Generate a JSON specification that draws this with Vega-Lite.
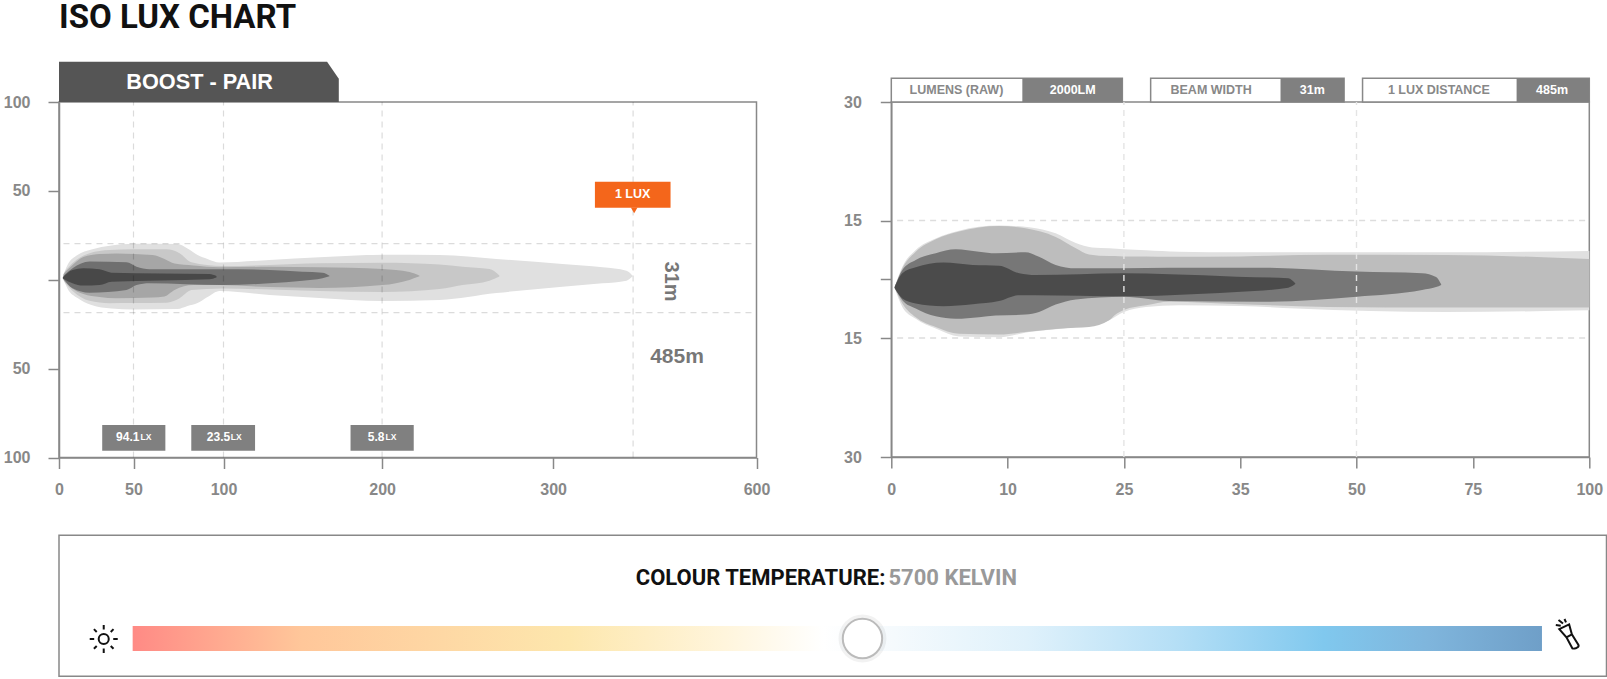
{
"$schema":"https://vega.github.io/schema/vega-lite/v6.json",
"background":"white",
"padding":{"left":2,"top":1,"right":0,"bottom":0},
"resolve":{"scale":{"color":"independent"}},
"config":{"view":{"stroke":"#888","strokeWidth":1.5},"font":"Liberation Sans","axis":{"domainColor":"#888","domainWidth":1.5,"tickColor":"#888","tickWidth":1.5,"tickSize":11,"labelColor":"#888","labelFont":"Liberation Sans","labelFontWeight":"bold","labelFontSize":16,"grid":false,"title":null,"labelFlush":false,"labelOverlap":false,"labelBound":false}},
"datasets":{
"left":[
{"level":"L1","x":2.55,"y":1.5,"y2":1.3},{"level":"L1","x":5.7,"y":8.3,"y2":-4.9},{"level":"L1","x":12.4,"y":13.9,"y2":-10.3},{"level":"L1","x":21.8,"y":17,"y2":-14.2},{"level":"L1","x":35.2,"y":19.3,"y2":-16.2},{"level":"L1","x":50,"y":20.3,"y2":-16.7},{"level":"L1","x":74.4,"y":20.1,"y2":-16.5},{"level":"L1","x":80,"y":17.6,"y2":-14.8},{"level":"L1","x":85.6,"y":13.9,"y2":-13.1},{"level":"L1","x":91.1,"y":11.7,"y2":-9.7},{"level":"L1","x":97.8,"y":9.7,"y2":-6.3},{"level":"L1","x":129,"y":11.1,"y2":-8.6},{"level":"L1","x":160.5,"y":12.6,"y2":-10.3},{"level":"L1","x":200.2,"y":14.1,"y2":-12},{"level":"L1","x":233.6,"y":13.9,"y2":-11.4},{"level":"L1","x":266.9,"y":11.7,"y2":-7.5},{"level":"L1","x":321.7,"y":8.9,"y2":-3.9},{"level":"L1","x":414.2,"y":7,"y2":-2},{"level":"L1","x":469.7,"y":5.1,"y2":-0.5},{"level":"L1","x":483.6,"y":2.3,"y2":1.9},
{"level":"L2","x":3.7,"y":4.4,"y2":-1.3},{"level":"L2","x":9.1,"y":9.4,"y2":-6.3},{"level":"L2","x":20.5,"y":14.9,"y2":-11.8},{"level":"L2","x":33.9,"y":16.7,"y2":-13.2},{"level":"L2","x":49.3,"y":17.1,"y2":-13.1},{"level":"L2","x":68.3,"y":17.1,"y2":-12.9},{"level":"L2","x":75.6,"y":14.9,"y2":-10.4},{"level":"L2","x":82.2,"y":9.8,"y2":-5.8},{"level":"L2","x":99.4,"y":7.7,"y2":-4.9},{"level":"L2","x":129,"y":8.3,"y2":-5.5},{"level":"L2","x":160.5,"y":9.3,"y2":-6.3},{"level":"L2","x":200.2,"y":9.6,"y2":-6.9},{"level":"L2","x":233.6,"y":8.6,"y2":-5.2},{"level":"L2","x":247,"y":7.3,"y2":-3},{"level":"L2","x":262.8,"y":6,"y2":-0.5},{"level":"L2","x":268.6,"y":2.4,"y2":1.8},
{"level":"L3","x":3,"y":3.2,"y2":-0.1},{"level":"L3","x":8.4,"y":7.7,"y2":-4.6},{"level":"L3","x":16.4,"y":12.8,"y2":-8},{"level":"L3","x":27.2,"y":14.5,"y2":-9.7},{"level":"L3","x":38.6,"y":14.8,"y2":-10.4},{"level":"L3","x":60.6,"y":13.9,"y2":-10},{"level":"L3","x":67.2,"y":11.7,"y2":-9.4},{"level":"L3","x":72.8,"y":9.1,"y2":-5.8},{"level":"L3","x":83.3,"y":8,"y2":-3},{"level":"L3","x":97.8,"y":7,"y2":-3},{"level":"L3","x":129,"y":7.3,"y2":-4.1},{"level":"L3","x":160.5,"y":7,"y2":-4.6},{"level":"L3","x":200.2,"y":6,"y2":-3},{"level":"L3","x":216,"y":4.4,"y2":-0.1},{"level":"L3","x":221.9,"y":2.3,"y2":1.9},
{"level":"L4","x":3,"y":2.1,"y2":0.4},{"level":"L4","x":9.1,"y":6.4,"y2":-4.8},{"level":"L4","x":20.5,"y":10.2,"y2":-7.3},{"level":"L4","x":45.3,"y":9.8,"y2":-5.8},{"level":"L4","x":51.7,"y":7.3,"y2":-3},{"level":"L4","x":58.9,"y":5.9,"y2":-2},{"level":"L4","x":99.4,"y":5.9,"y2":-3},{"level":"L4","x":129,"y":5.5,"y2":-2},{"level":"L4","x":149.8,"y":4.5,"y2":-0.5},{"level":"L4","x":162.4,"y":4,"y2":0.8},{"level":"L4","x":166.8,"y":2.3,"y2":1.9},
{"level":"L5","x":2.55,"y":1.3,"y2":0.7},{"level":"L5","x":9.1,"y":5.5,"y2":-2},{"level":"L5","x":16.3,"y":6.4,"y2":-3.3},{"level":"L5","x":27.2,"y":5.9,"y2":-3},{"level":"L5","x":35.2,"y":4,"y2":-1.1},{"level":"L5","x":92.2,"y":3.2,"y2":0.3},{"level":"L5","x":96.1,"y":2.1,"y2":1.3}
],
"right":[
{"level":"R1","x":0.29,"y":-1.97,"y2":-2.38},{"level":"R1","x":0.95,"y":3.15,"y2":-7.1},{"level":"R1","x":2.1,"y":7.44,"y2":-10.1},{"level":"R1","x":3.82,"y":10.4,"y2":-12.6},{"level":"R1","x":5.82,"y":12.4,"y2":-14.6},{"level":"R1","x":9.26,"y":13.7,"y2":-14.8},{"level":"R1","x":12.8,"y":13.3,"y2":-13.5},{"level":"R1","x":16.2,"y":11.7,"y2":-12.8},{"level":"R1","x":18.8,"y":9.2,"y2":-12.2},{"level":"R1","x":20.9,"y":8.1,"y2":-11.8},{"level":"R1","x":23.1,"y":7.9,"y2":-10.5},{"level":"R1","x":25,"y":7.6,"y2":-8.4},{"level":"R1","x":26.9,"y":7.4,"y2":-7.1},{"level":"R1","x":29.7,"y":7,"y2":-6.7},{"level":"R1","x":35,"y":6.85,"y2":-6.85},{"level":"R1","x":42.2,"y":6.85,"y2":-7.5},{"level":"R1","x":69.2,"y":6.85,"y2":-8.4},{"level":"R1","x":100,"y":7.2,"y2":-7.95},
{"level":"R2","x":0.29,"y":-2.05,"y2":-2.3},{"level":"R2","x":0.95,"y":2.74,"y2":-6.2},{"level":"R2","x":2.1,"y":7,"y2":-9.7},{"level":"R2","x":3.82,"y":10.2,"y2":-12.2},{"level":"R2","x":5.82,"y":12.2,"y2":-13.9},{"level":"R2","x":9.26,"y":13.6,"y2":-14.1},{"level":"R2","x":12.3,"y":13,"y2":-13.5},{"level":"R2","x":16.2,"y":10.8,"y2":-12.7},{"level":"R2","x":18.8,"y":7.9,"y2":-12.4},{"level":"R2","x":20.5,"y":6.3,"y2":-12.2},{"level":"R2","x":23.1,"y":5.9,"y2":-10.5},{"level":"R2","x":23.8,"y":5.9,"y2":-9.2},{"level":"R2","x":25,"y":5.8,"y2":-7.9},{"level":"R2","x":26.9,"y":5.8,"y2":-6.7},{"level":"R2","x":28.9,"y":5.7,"y2":-5.8},{"level":"R2","x":35,"y":5.8,"y2":-6.4},{"level":"R2","x":46.3,"y":6.2,"y2":-7.1},{"level":"R2","x":69.2,"y":6.15,"y2":-7.25},{"level":"R2","x":100,"y":5.1,"y2":-7.25},
{"level":"R3","x":0.29,"y":-2.05,"y2":-2.3},{"level":"R3","x":0.95,"y":2.3,"y2":-5.4},{"level":"R3","x":2.1,"y":4.9,"y2":-7.5},{"level":"R3","x":3.82,"y":6.6,"y2":-9.5},{"level":"R3","x":5.54,"y":7.6,"y2":-10.1},{"level":"R3","x":7.54,"y":7,"y2":-9.7},{"level":"R3","x":8.98,"y":6.6,"y2":-9.3},{"level":"R3","x":12.3,"y":6.85,"y2":-9.05},{"level":"R3","x":14.05,"y":5.7,"y2":-8.4},{"level":"R3","x":16.2,"y":3.6,"y2":-6.5},{"level":"R3","x":18.8,"y":2.74,"y2":-5.2},{"level":"R3","x":25,"y":2.74,"y2":-4.5},{"level":"R3","x":28.9,"y":2.9,"y2":-5.6},{"level":"R3","x":37.8,"y":2.9,"y2":-5.8},{"level":"R3","x":50,"y":1.9,"y2":-4.5},{"level":"R3","x":64.1,"y":1.5,"y2":-2.8},{"level":"R3","x":67.1,"y":0.5,"y2":-2.05},{"level":"R3","x":68.2,"y":-1.35,"y2":-1.5},
{"level":"R4","x":0.29,"y":-2.05,"y2":-2.3},{"level":"R4","x":0.95,"y":1.46,"y2":-4.95},{"level":"R4","x":2.1,"y":3,"y2":-6.2},{"level":"R4","x":4.46,"y":4.2,"y2":-6.9},{"level":"R4","x":7,"y":3.6,"y2":-6.4},{"level":"R4","x":9.26,"y":3.4,"y2":-5.6},{"level":"R4","x":11.5,"y":1.46,"y2":-4.1},{"level":"R4","x":13.6,"y":1,"y2":-4.1},{"level":"R4","x":25,"y":1.46,"y2":-4.4},{"level":"R4","x":28.9,"y":1.2,"y2":-4.1},{"level":"R4","x":34.7,"y":0.6,"y2":-3.3},{"level":"R4","x":41.2,"y":0.18,"y2":-2.2},{"level":"R4","x":42.1,"y":-1.1,"y2":-1.3}
]
},
"bounds":"flush",
"align":"none",
"columns":2,
"spacing":{"row":77.3,"column":134.3},
"concat":[
{"width":697.5,"height":355.5,
"encoding":{
"x":{"field":"x","type":"quantitative","scale":{"domain":[0,50,100,200,300,485,600],"range":[0,74.5,164.5,323.1,494.1,574.1,697.5],"nice":false,"zero":false},"axis":{"values":[0,50,100,200,300,600],"labelPadding":13}},
"y":{"field":"y","type":"quantitative","scale":{"domain":[-100,100],"nice":false,"zero":false},"axis":{"values":[-100,-50,0,50,100],"labelExpr":"datum.value==0?'':''+abs(datum.value)","labelPadding":18}}
},
"layer":[
{"data":{"name":"left"},"mark":{"type":"area","interpolate":"monotone"},"encoding":{"y2":{"field":"y2"},"color":{"field":"level","type":"nominal","legend":null,"scale":{"domain":["L1","L2","L3","L4","L5"],"range":["#e0e0e0","#c8c8c8","#a6a6a6","#6f6f6f","#484848"]}}}},
{"data":{"values":[{"x":50,"y":-100,"y2":100},{"x":100,"y":-100,"y2":100},{"x":200,"y":-100,"y2":100},{"x":485,"y":-100,"y2":100}]},"mark":{"type":"rule","stroke":"#000","strokeOpacity":0.14,"strokeWidth":1.2,"strokeDash":[6,5]},"encoding":{"y2":{"field":"y2"}}},
{"data":{"values":[{"x":3,"x2":597,"y":20.3},{"x":3,"x2":597,"y":-18.5}]},"mark":{"type":"rule","stroke":"#000","strokeOpacity":0.14,"strokeWidth":1.2,"strokeDash":[6,5]},"encoding":{"x2":{"field":"x2"}}},
{"data":{"values":[{"x":0,"y":122.7},{"x":165.3,"y":122.7},{"x":172.7,"y":113.1}]},"mark":{"type":"area","color":"#555555","clip":false},"encoding":{"y2":{"datum":100}}},
{"data":{"values":[{"x":86.7,"y":111.2,"t":"BOOST - PAIR"}]},"mark":{"type":"text","color":"white","fontWeight":"bold","fontSize":21.7},"encoding":{"text":{"field":"t"}}},
{"data":{"values":[{"x":0,"y":147.1,"t":"ISO LUX CHART"}]},"mark":{"type":"text","color":"#111","font":"Roboto","fontWeight":"bold","fontSize":33,"align":"left"},"encoding":{"text":{"field":"t"}}},
{"data":{"values":[{"x":396.7,"x2":519.9,"y":55.2,"y2":40.5}]},"mark":{"type":"rect","color":"#f4661b"},"encoding":{"x2":{"field":"x2"},"y2":{"field":"y2"}}},
{"data":{"values":[{"x":486,"y":39}]},"mark":{"type":"point","shape":"triangle-down","filled":true,"opacity":1,"size":45,"color":"#f4661b"}},
{"data":{"values":[{"x":484,"y":48,"t":"1 LUX"}]},"mark":{"type":"text","color":"white","fontWeight":"bold","fontSize":12.5},"encoding":{"text":{"field":"t"}}},
{"data":{"values":[{"x":519.9,"y":-1,"t":"31m"}]},"mark":{"type":"text","color":"#777","fontWeight":"bold","fontSize":20,"angle":90},"encoding":{"text":{"field":"t"}}},
{"data":{"values":[{"x":525.9,"y":-43.3,"t":"485m"}]},"mark":{"type":"text","color":"#777","fontWeight":"bold","fontSize":21},"encoding":{"text":{"field":"t"}}},
{"data":{"values":[{"x":29,"x2":67.7,"y":-81.7,"y2":-96.2},{"x":82.1,"x2":119.9,"y":-81.7,"y2":-96.2},{"x":180.1,"x2":218.5,"y":-81.7,"y2":-96.2}]},"mark":{"type":"rect","color":"#808080"},"encoding":{"x2":{"field":"x2"},"y2":{"field":"y2"}}},
{"data":{"values":[{"x":53.3,"y":-88.3,"t":"94.1"},{"x":104.2,"y":-88.3,"t":"23.5"},{"x":201.4,"y":-88.3,"t":"5.8"}]},"mark":{"type":"text","color":"white","fontWeight":"bold","fontSize":12,"align":"right"},"encoding":{"text":{"field":"t"}}},
{"data":{"values":[{"x":53.9,"y":-88.5,"t":"LX"},{"x":104.6,"y":-88.5,"t":"LX"},{"x":202,"y":-88.5,"t":"LX"}]},"mark":{"type":"text","color":"white","fontWeight":"bold","fontSize":8.5,"align":"left"},"encoding":{"text":{"field":"t"}}}
]},
{"width":698,"height":355,
"encoding":{
"x":{"field":"x","type":"quantitative","scale":{"domain":[0,10,25,35,50,75,100],"range":[0,116.3,232.6,348.9,465.2,581.5,698],"nice":false,"zero":false},"axis":{"values":[0,10,25,35,50,75,100],"labelPadding":13}},
"y":{"field":"y","type":"quantitative","scale":{"domain":[-30,-15,0,15,30],"range":[355,236,177,118.5,0],"nice":false,"zero":false},"axis":{"values":[-30,-15,0,15,30],"labelExpr":"datum.value==0?'':''+abs(datum.value)","labelPadding":19}}
},
"layer":[
{"data":{"name":"right"},"mark":{"type":"area","interpolate":"monotone"},"encoding":{"y2":{"field":"y2"},"color":{"field":"level","type":"nominal","legend":null,"scale":{"domain":["R1","R2","R3","R4"],"range":["#e0e0e0","#bdbdbd","#777777","#4b4b4b"]}}}},
{"data":{"values":[{"x":25,"y":-30,"y2":30},{"x":50,"y":-30,"y2":30}]},"mark":{"type":"rule","stroke":"#e4e4e4","strokeWidth":1.4,"strokeDash":[6,5]},"encoding":{"y2":{"field":"y2"}}},
{"data":{"values":[{"x":0.5,"x2":99.8,"y":15},{"x":0.5,"x2":99.8,"y":-15}]},"mark":{"type":"rule","stroke":"#dddddd","strokeWidth":1.4,"strokeDash":[6,5]},"encoding":{"x2":{"field":"x2"}}},
{"data":{"values":[{"x":0,"x2":24.8,"y":30,"y2":33},{"x":27.3,"x2":48.4,"y":30,"y2":33},{"x":51.3,"x2":100,"y":30,"y2":33}]},"mark":{"type":"rect","fill":"white","stroke":"#888","strokeWidth":1.5},"encoding":{"x2":{"field":"x2"},"y2":{"field":"y2"}}},
{"data":{"values":[{"x":11.9,"x2":24.8,"y":30,"y2":33},{"x":40.2,"x2":48.4,"y":30,"y2":33},{"x":84.4,"x2":100,"y":30,"y2":33}]},"mark":{"type":"rect","color":"#808080"},"encoding":{"x2":{"field":"x2"},"y2":{"field":"y2"}}},
{"data":{"values":[{"x":5.6,"y":31.5,"t":"LUMENS (RAW)"},{"x":32.5,"y":31.5,"t":"BEAM WIDTH"},{"x":67.7,"y":31.5,"t":"1 LUX DISTANCE"}]},"mark":{"type":"text","color":"#888","fontWeight":"bold","fontSize":12.5},"encoding":{"text":{"field":"t"}}},
{"data":{"values":[{"x":18.4,"y":31.5,"t":"2000LM"},{"x":44.3,"y":31.5,"t":"31m"},{"x":92,"y":31.5,"t":"485m"}]},"mark":{"type":"text","color":"white","fontWeight":"bold","fontSize":12.5},"encoding":{"text":{"field":"t"}}}
]},
{"width":697.5,"height":141,"view":{"stroke":null},
"encoding":{
"x":{"field":"x","type":"quantitative","scale":{"domain":[0,100],"range":[0,1547.5],"nice":false,"zero":false},"axis":null},
"y":{"field":"y","type":"quantitative","scale":{"domain":[0,100],"nice":false,"zero":false},"axis":null}
},
"layer":[
{"data":{"values":[{"x":0,"x2":100,"y":0,"y2":100}]},"mark":{"type":"rect","fill":null,"stroke":"#888","strokeWidth":1.5},"encoding":{"x2":{"field":"x2"},"y2":{"field":"y2"}}},
{"data":{"values":[{"x":4.76,"x2":95.83,"y":35.7,"y2":17.9}]},"mark":{"type":"rect","color":{"gradient":"linear","x1":0,"y1":0,"x2":1,"y2":0,"stops":[{"offset":0,"color":"#ff8a85"},{"offset":0.12,"color":"#ffc79a"},{"offset":0.31,"color":"#fde7ad"},{"offset":0.42,"color":"#fff5dc"},{"offset":0.49,"color":"#ffffff"},{"offset":0.54,"color":"#f5fafd"},{"offset":0.635,"color":"#dff1fb"},{"offset":0.74,"color":"#b5dff6"},{"offset":0.845,"color":"#80c8ee"},{"offset":0.92,"color":"#7fb5dc"},{"offset":1,"color":"#6f9fc8"}]}},"encoding":{"x2":{"field":"x2"},"y2":{"field":"y2"}}},
{"data":{"values":[{"x":51.92,"y":26.8}]},"mark":{"type":"point","shape":"circle","filled":true,"color":"#000","opacity":0.05,"size":2300}},
{"data":{"values":[{"x":51.92,"y":26.8}]},"mark":{"type":"point","shape":"circle","filled":true,"fill":"white","stroke":"#bbbbbb","strokeWidth":2,"opacity":1,"size":1550}},
{"data":{"values":[{"x":2.89,"y":26.5}]},"mark":{"type":"point","filled":false,"stroke":"#111","strokeWidth":2,"opacity":1,"size":784,"shape":"M.36 0A.36 .36 0 1 1 -.36 0A.36 .36 0 1 1 .36 0ZM0 -1L0 -.68M0 1L0 .68M-1 0L-.68 0M1 0L.68 0M-.7 -.7L-.5 -.5M.7 -.7L.5 -.5M-.7 .7L-.5 .5M.7 .7L.5 .5"}},
{"data":{"values":[{"x":97.48,"y":30}]},"mark":{"type":"point","filled":false,"stroke":"#111","strokeWidth":2,"opacity":1,"size":900,"shape":"M-.55 -.33L.11 -.64L.29 .02L.73 .73Q.78 .85 .6 .93Q.4 1 .33 .96L-.07 .22ZM-.07 .22L.29 .02M-.78 -.6L-.45 -.55M-.6 -.93L-.3 -.7M-.2 -1L-.1 -.78"}},
{"data":{"values":[{"x":53.4,"y":69.7,"t":"COLOUR TEMPERATURE:"}]},"mark":{"type":"text","color":"#111","font":"Roboto","fontWeight":"bold","fontSize":22,"align":"right"},"encoding":{"text":{"field":"t"}}},
{"data":{"values":[{"x":53.6,"y":69.7,"t":"5700 KELVIN"}]},"mark":{"type":"text","color":"#999","font":"Roboto","fontWeight":"bold","fontSize":22,"align":"left"},"encoding":{"text":{"field":"t"}}}
]}
]
}
